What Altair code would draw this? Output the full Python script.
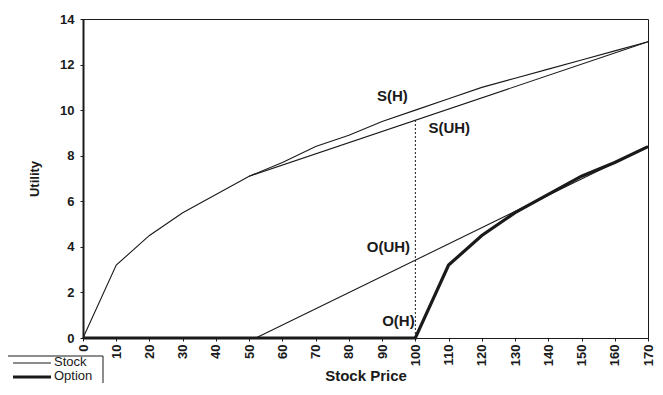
import altair as alt
import pandas as pd

# ---- data ----
prices = [0, 10, 20, 30, 40, 50, 60, 70, 80, 90, 100, 110, 120, 130, 140, 150, 160, 170]
stock_h = [0, 3.2, 4.5, 5.5, 6.3, 7.1, 7.7, 8.4, 8.9, 9.5, 10.0, 10.5, 11.0, 11.4, 11.8, 12.2, 12.6, 13.0]
option_h = [0, 0, 0, 0, 0, 0, 0, 0, 0, 0, 0, 3.2, 4.5, 5.5, 6.3, 7.1, 7.7, 8.4]
suh_prices = [50, 170]
stock_uh = [7.1, 13.0]
ouh_prices = [52, 170]
option_uh = [0, 8.4]
dotted_x = [100]
dotted_top = [9.6]
labels = ["S(H)", "S(UH)", "O(UH)", "O(H)"]
label_x = [93.1, 110.2, 91.9, 94.9]
label_y = [10.6, 9.2, 4.0, 0.75]
x_ticks = list(range(0, 171, 10))
y_ticks = list(range(0, 15, 2))

rows = []
for p, v in zip(prices, stock_h):
    rows.append({"price": p, "u": v, "series": "S(H)", "kind": "Stock"})
for p, v in zip(prices, option_h):
    rows.append({"price": p, "u": v, "series": "O(H)", "kind": "Option"})
for p, v in zip(suh_prices, stock_uh):
    rows.append({"price": p, "u": v, "series": "S(UH)", "kind": "Stock"})
for p, v in zip(ouh_prices, option_uh):
    rows.append({"price": p, "u": v, "series": "O(UH)", "kind": "Stock"})
df = pd.DataFrame(rows)

FONT = "Liberation Sans"
INK = "#1a1a1a"

xscale = alt.Scale(domain=[0, 170], nice=False, zero=True)
yscale = alt.Scale(domain=[0, 14], nice=False)

xaxis = alt.Axis(values=x_ticks, labelAngle=270, title="Stock Price",
                 labelFontWeight="bold", labelFontSize=13, titleFontSize=15,
                 titleFontWeight="bold", titlePadding=3, tickSize=3,
                 labelPadding=3, domainColor=INK, tickColor=INK,
                 labelColor=INK, titleColor=INK, grid=False, labelFlush=False,
                 labelOverlap=False)
yaxis = alt.Axis(values=y_ticks, title="Utility", labelFontWeight="bold",
                 labelFontSize=13, titleFontSize=13, titleFontWeight="bold",
                 tickSize=3, labelPadding=6, domainColor=INK, domainWidth=2,
                 tickColor=INK, labelColor=INK, titleColor=INK, grid=False,
                 titlePadding=18, labelFlush=False, labelOverlap=False)

lines = alt.Chart(df).mark_line(color=INK).encode(
    x=alt.X("price:Q", scale=xscale, axis=xaxis),
    y=alt.Y("u:Q", scale=yscale, axis=yaxis),
    detail="series:N",
    strokeWidth=alt.StrokeWidth("kind:N", scale=alt.Scale(domain=["Stock", "Option"], range=[1.1, 3.2]), legend=None),
)

dot_df = pd.DataFrame({"x": dotted_x, "y0": [0], "y1": dotted_top})
dotted = alt.Chart(dot_df).mark_rule(color=INK, strokeDash=[2, 2], strokeWidth=1).encode(
    x=alt.X("x:Q", scale=xscale, axis=xaxis, title="Stock Price"),
    y=alt.Y("y0:Q", scale=yscale, axis=yaxis, title="Utility"), y2="y1:Q")

lab_df = pd.DataFrame({"label": labels, "x": label_x, "y": label_y})
texts = alt.Chart(lab_df).mark_text(font=FONT, fontSize=15, fontWeight="bold", color=INK).encode(
    x=alt.X("x:Q", scale=xscale, axis=xaxis, title="Stock Price"),
    y=alt.Y("y:Q", scale=yscale, axis=yaxis, title="Utility"), text="label:N")

one = pd.DataFrame({"a": [0]})
leg_box = alt.Chart(one).mark_rect(fill="white", stroke=INK, strokeWidth=1).encode(
    x=alt.value(-79), x2=alt.value(20), y=alt.value(337), y2=alt.value(366))
leg_l1 = alt.Chart(one).mark_rule(color=INK, strokeWidth=1.1).encode(
    x=alt.value(-70), x2=alt.value(-32), y=alt.value(344))
leg_l2 = alt.Chart(one).mark_rule(color=INK, strokeWidth=3.2).encode(
    x=alt.value(-70), x2=alt.value(-32), y=alt.value(358))
leg_t1 = alt.Chart(one).mark_text(font=FONT, fontSize=13, align="left", baseline="middle", color=INK).encode(
    x=alt.value(-29), y=alt.value(343), text=alt.value("Stock"))
leg_t2 = alt.Chart(one).mark_text(font=FONT, fontSize=13, align="left", baseline="middle", color=INK).encode(
    x=alt.value(-29), y=alt.value(357), text=alt.value("Option"))

chart = alt.layer(lines, dotted, texts, leg_box, leg_l1, leg_l2, leg_t1, leg_t2).properties(
    width=565, height=319,
    autosize=alt.AutoSizeParams(type="none"),
    padding={"left": 75, "top": 11, "right": 7, "bottom": 45},
).configure_view(stroke=INK, strokeWidth=1).configure_axis(labelFont=FONT, titleFont=FONT)

chart.save("out.html", embed_options={"renderer": "svg", "actions": False})
